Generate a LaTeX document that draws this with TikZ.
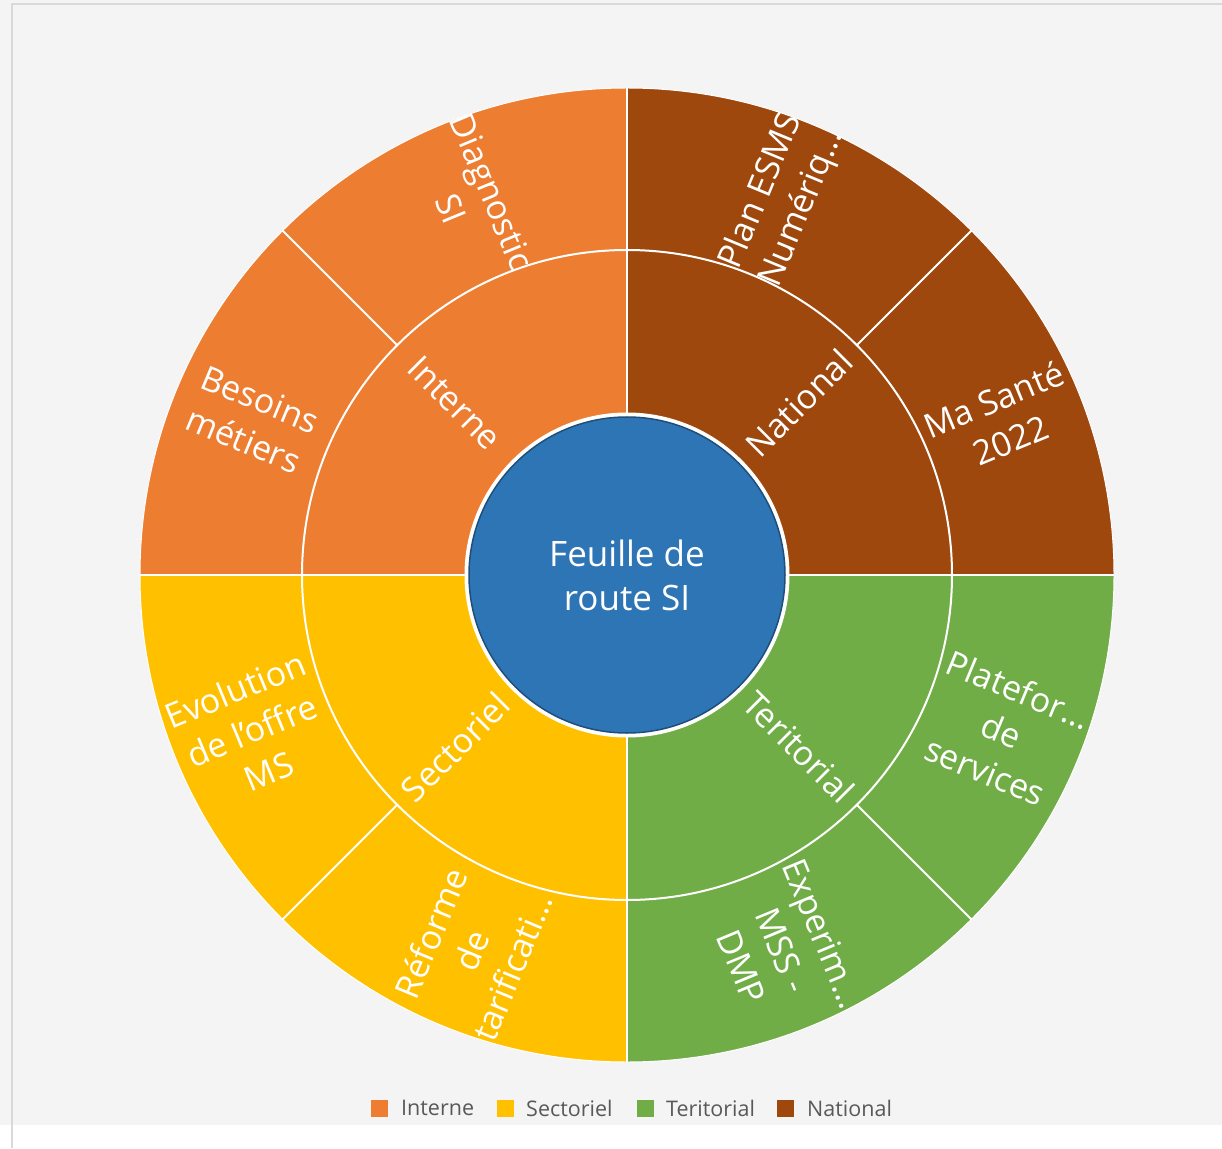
\documentclass[tikz,border=0pt]{standalone}
\usepackage{fontspec}
\setmainfont{Open Sans}
\usepackage{xcolor}
\usepackage{tikz}
\definecolor{interne}{HTML}{ED7D31}
\definecolor{sectoriel}{HTML}{FFC000}
\definecolor{teritorial}{HTML}{70AD47}
\definecolor{national}{HTML}{9E480E}
\definecolor{rootblue}{HTML}{2E75B6}
\definecolor{rootdark}{HTML}{1F4E79}
\definecolor{chartbg}{HTML}{F4F4F4}
\definecolor{framegray}{HTML}{D9D9D9}
\definecolor{legendgray}{HTML}{595959}

\begin{document}
\begin{tikzpicture}[x=1pt, y=1pt,
    seg/.style={text=white, align=center, inner sep=0pt, font=\fontsize{34}{44}\selectfont},
    sep/.style={white, line width=2pt},
    legsq/.style={shape=rectangle, minimum size=17pt, inner sep=0pt},
    legtxt/.style={anchor=west, inner sep=0pt, text=legendgray, font=\fontsize{21.5}{26}\selectfont}]
    \useasboundingbox (-627,-573) rectangle (595,575);
    \fill[white] (-627,-573) rectangle (595,575);
    \fill[chartbg] (-627,-550) rectangle (595,575);
    \draw[framegray, line width=2pt] (-615,-573) -- (-615,571) -- (595,571);

    \fill[interne] (0,0) -- (90:487pt) arc[start angle=90, end angle=180, radius=487pt] -- cycle;
    \fill[sectoriel] (0,0) -- (180:487pt) arc[start angle=180, end angle=270, radius=487pt] -- cycle;
    \fill[teritorial] (0,0) -- (270:487pt) arc[start angle=270, end angle=360, radius=487pt] -- cycle;
    \fill[national] (0,0) -- (0:487pt) arc[start angle=0, end angle=90, radius=487pt] -- cycle;

    \draw[sep] (0,0) circle[radius=325pt];
    \draw[white, line width=1pt] (0,0) circle[radius=487pt];
    \draw[sep] (0:160pt) -- (0:487pt);
    \draw[sep] (90:160pt) -- (90:487pt);
    \draw[sep] (180:160pt) -- (180:487pt);
    \draw[sep] (270:160pt) -- (270:487pt);
    \draw[sep] (45:325pt) -- (45:487pt);
    \draw[sep] (135:325pt) -- (135:487pt);
    \draw[sep] (225:325pt) -- (225:487pt);
    \draw[sep] (315:325pt) -- (315:487pt);

    \draw[white, line width=5pt] (0,0) circle[radius=160pt];
    \node (root) [shape=circle, fill=rootblue, draw=rootdark, line width=1.5pt, minimum size=316pt,
        text=white, align=center, font=\fontsize{35}{44}\selectfont] at (0,0) {Feuille de\\route SI};

    \node (interne) [seg, rotate=-45] at (135:243pt) {Interne};
    \node (national) [seg, rotate=45] at (45:243pt) {National};
    \node (sectoriel) [seg, rotate=45] at (225:243pt) {Sectoriel};
    \node (teritorial) [seg, rotate=-45] at (315:243pt) {Teritorial};

    \node (plan) [seg, rotate=67.5] at (67.5:406pt) {Plan ESMS\\Numériq…};
    \node (diag) [seg, rotate=-67.5] at (112.5:406pt) {Diagnostic\\SI};
    \node (besoins) [seg, rotate=-22.5] at (157.5:406pt) {Besoins\\métiers};
    \node (evol) [seg, rotate=22.5] at (202.5:406pt) {Evolution\\de l'offre\\MS};
    \node (reforme) [seg, rotate=67.5] at (247.5:406pt) {Réforme\\de\\tarificati…};
    \node (experim) [seg, rotate=-67.5] at (292.5:406pt) {Experim…\\MSS -\\DMP};
    \node (platef) [seg, rotate=-22.5] at (337.5:406pt) {Platefor…\\de\\services};
    \node (masante) [seg, rotate=22.5] at (22.5:406pt) {Ma Santé\\2022};

    \node (leg-int) [legsq, fill=interne] at (-247,-533) {};
    \node (leg-int-t) [legtxt] at (-226,-533) {Interne};
    \node (leg-sec) [legsq, fill=sectoriel] at (-122,-533) {};
    \node (leg-sec-t) [legtxt] at (-101,-533) {Sectoriel};
    \node (leg-ter) [legsq, fill=teritorial] at (18,-533) {};
    \node (leg-ter-t) [legtxt] at (39,-533) {Teritorial};
    \node (leg-nat) [legsq, fill=national] at (158,-533) {};
    \node (leg-nat-t) [legtxt] at (180,-533) {National};
  \end{tikzpicture}
\end{document}
